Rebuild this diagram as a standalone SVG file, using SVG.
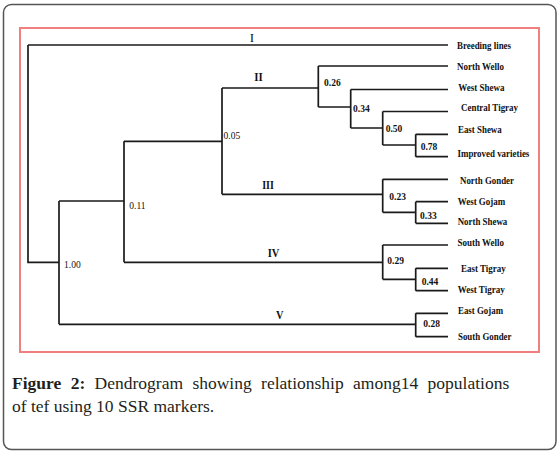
<svg xmlns="http://www.w3.org/2000/svg" width="560" height="453" viewBox="0 0 560 453">
<style>
.frame{fill:#fff;stroke:#555;stroke-width:1.5}
.box{fill:none;stroke:#f08080;stroke-width:2}
.ln{fill:none;stroke:#1a1a1a;stroke-width:1.7}
.leaf{font-family:"Liberation Serif",serif;font-weight:bold;font-size:10px;fill:#111}
.num{font-family:"Liberation Serif",serif;font-size:9.5px;fill:#111}
.numb{font-family:"Liberation Serif",serif;font-size:9.5px;font-weight:bold;fill:#111}
.cl{font-family:"Liberation Serif",serif;font-weight:bold;font-size:13px;fill:#111;text-anchor:middle}
.cap{font-family:"Liberation Serif",serif;font-size:17.5px;fill:#231f20}
</style>
<rect class="frame" x="3.5" y="4.5" width="552.5" height="445" rx="8"/>
<rect class="box" x="20" y="28" width="519" height="324"/>
<g id="connectors" class="ln">
<path d="M28,45 H448"/>
<path d="M28,45 V262.3 H59"/>
<path d="M59,201 V324.3 M59,201 H124 M59,324.3 H415.7"/>
<path d="M124,141.3 V262.3 M124,141.3 H222 M124,262.3 H382.7"/>
<path d="M222,88 V194.3 M222,88 H318.3 M222,194.3 H382.7"/>
<path d="M318.3,66 V107 M318.3,66 H448 M318.3,107 H350.7"/>
<path d="M350.7,89.5 V128 M350.7,89.5 H448 M350.7,128 H382.7"/>
<path d="M382.7,111.5 V145 M382.7,111.5 H448 M382.7,145 H415.7"/>
<path d="M415.7,134.3 V156.7 M415.7,134.3 H448 M415.7,156.7 H448"/>
<path d="M382.7,179.3 V212.3 M382.7,179.3 H448 M382.7,212.3 H415.7"/>
<path d="M415.7,201.7 V223.3 M415.7,201.7 H448 M415.7,223.3 H448"/>
<path d="M382.7,245 V279.3 M382.7,245 H448 M382.7,279.3 H415.7"/>
<path d="M415.7,268.3 V290.7 M415.7,268.3 H448 M415.7,290.7 H448"/>
<path d="M415.7,313.3 V336.7 M415.7,313.3 H448 M415.7,336.7 H448"/>
</g>
<g id="clusters">
<text class="cl" x="252" y="41.7" style="font-weight:normal">I</text>
<text class="cl" x="258.5" y="80.5" textLength="8.5" lengthAdjust="spacingAndGlyphs">II</text>
<text class="cl" x="268" y="189" textLength="11.7" lengthAdjust="spacingAndGlyphs">III</text>
<text class="cl" x="273.5" y="257" textLength="11.7" lengthAdjust="spacingAndGlyphs">IV</text>
<text class="cl" x="279.7" y="319" textLength="7.5" lengthAdjust="spacingAndGlyphs">V</text>
</g>
<g id="n100"><text class="num" x="64" y="267.5">1.00</text></g>
<g id="n011"><text class="num" x="129.3" y="208.5">0.11</text></g>
<g id="n005"><text class="num" x="223.5" y="139">0.05</text></g>
<g id="n026"><text class="numb" x="324" y="86">0.26</text></g>
<g id="n034"><text class="numb" x="353" y="111.5">0.34</text></g>
<g id="n050"><text class="numb" x="385.7" y="132">0.50</text></g>
<g id="n078"><text class="numb" x="420.7" y="150">0.78</text></g>
<g id="n023"><text class="numb" x="389.3" y="200">0.23</text></g>
<g id="n033"><text class="numb" x="420" y="219">0.33</text></g>
<g id="n029"><text class="numb" x="387.3" y="264">0.29</text></g>
<g id="n044"><text class="numb" x="421.7" y="285">0.44</text></g>
<g id="n028"><text class="numb" x="423.3" y="327">0.28</text></g>
<g id="leaf-breeding-lines"><text class="leaf" x="457" y="49" textLength="54" lengthAdjust="spacingAndGlyphs">Breeding lines</text></g>
<g id="leaf-north-wello"><text class="leaf" x="457" y="70" textLength="47.1" lengthAdjust="spacingAndGlyphs">North Wello</text></g>
<g id="leaf-west-shewa"><text class="leaf" x="458.3" y="91" textLength="46.1" lengthAdjust="spacingAndGlyphs">West Shewa</text></g>
<g id="leaf-central-tigray"><text class="leaf" x="461" y="111" textLength="57" lengthAdjust="spacingAndGlyphs">Central Tigray</text></g>
<g id="leaf-east-shewa"><text class="leaf" x="458" y="132.5" textLength="43.7" lengthAdjust="spacingAndGlyphs">East Shewa</text></g>
<g id="leaf-improved-varieties"><text class="leaf" x="457.5" y="157" textLength="71.8" lengthAdjust="spacingAndGlyphs">Improved varieties</text></g>
<g id="leaf-north-gonder"><text class="leaf" x="460" y="184" textLength="54" lengthAdjust="spacingAndGlyphs">North Gonder</text></g>
<g id="leaf-west-gojam"><text class="leaf" x="457.7" y="205" textLength="47.6" lengthAdjust="spacingAndGlyphs">West Gojam</text></g>
<g id="leaf-north-shewa"><text class="leaf" x="457.7" y="225" textLength="49.6" lengthAdjust="spacingAndGlyphs">North Shewa</text></g>
<g id="leaf-south-wello"><text class="leaf" x="457.5" y="246" textLength="46.6" lengthAdjust="spacingAndGlyphs">South Wello</text></g>
<g id="leaf-east-tigray"><text class="leaf" x="461" y="271.5" textLength="44.6" lengthAdjust="spacingAndGlyphs">East Tigray</text></g>
<g id="leaf-west-tigray"><text class="leaf" x="457.7" y="293" textLength="47.1" lengthAdjust="spacingAndGlyphs">West Tigray</text></g>
<g id="leaf-east-gojam"><text class="leaf" x="458" y="314" textLength="45.1" lengthAdjust="spacingAndGlyphs">East Gojam</text></g>
<g id="leaf-south-gonder"><text class="leaf" x="458" y="340" textLength="53.5" lengthAdjust="spacingAndGlyphs">South Gonder</text></g>
<g id="caption">
<text class="cap" x="12" y="389" word-spacing="5"><tspan font-weight="bold">Figure 2:</tspan> Dendrogram showing relationship among14 populations</text>
<text class="cap" x="12" y="411.5">of tef using 10 SSR markers.</text>
</g>
</svg>
